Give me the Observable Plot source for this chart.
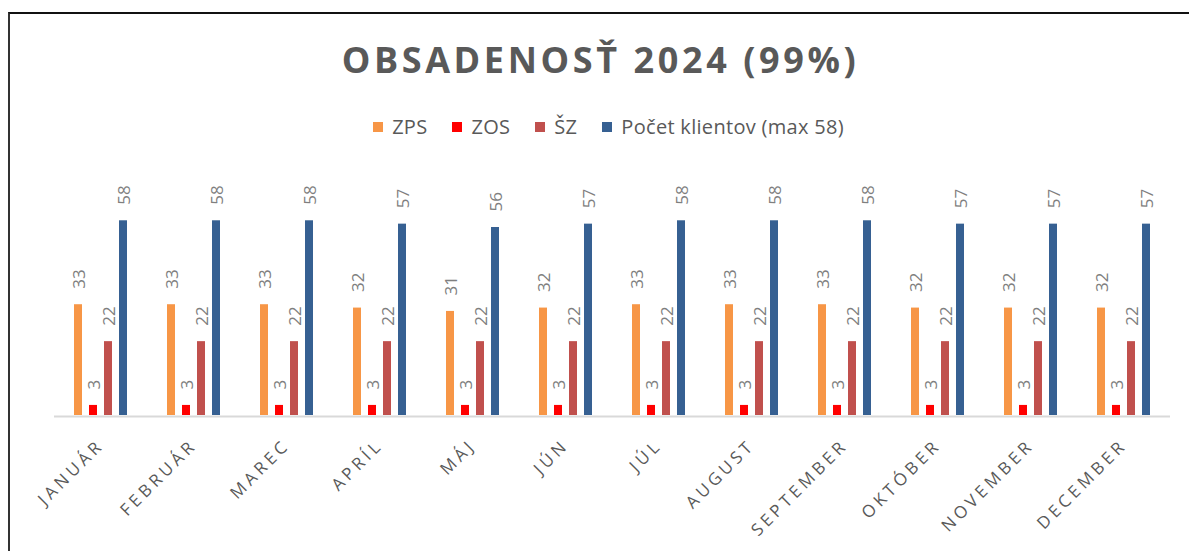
<!DOCTYPE html>
<html>
<head>
<meta charset="utf-8">
<script src="https://cdn.jsdelivr.net/npm/d3@7"></script>
<script src="https://cdn.jsdelivr.net/npm/@observablehq/plot@0.6"></script>
<style>
  html, body { margin: 0; padding: 0; background: #fff; }
  body { width: 1189px; height: 551px; overflow: hidden; position: relative; font-family: "Open Sans", sans-serif; }
  #frame { position: absolute; left: 8px; top: 12px; width: 1300px; height: 700px; border-top: 2px solid #111; border-left: 2px solid #333; box-sizing: border-box; }
  #title { position: absolute; left: 0; width: 1189px; top: 42px; text-align: center; font-weight: 700; font-size: 36px; letter-spacing: 3.6px; color: #595959; line-height: 1; padding-left: 12px; box-sizing: border-box;}
  #legend { position: absolute; left: 0; width: 1189px; top: 113px; display: flex; justify-content: center; gap: 25px; font-size: 20px; letter-spacing: 0.3px; color: #595959; padding-left: 28px; box-sizing: border-box; line-height: 28px;}
  .item { display: flex; align-items: center; gap: 9px; }
  .sw { width: 10px; height: 10px; display: inline-block; }
  #chart { position: absolute; left: 0; top: 150px; }
</style>
</head>
<body>
<div id="frame"></div>
<div id="title">OBSADENOSŤ 2024 (99%)</div>
<div id="legend"></div>
<div id="chart"></div>
<script>
const months = ["JANUÁR","FEBRUÁR","MAREC","APRÍL","MÁJ","JÚN","JÚL","AUGUST","SEPTEMBER","OKTÓBER","NOVEMBER","DECEMBER"];
const seriesNames = ["ZPS","ZOS","ŠZ","Počet klientov (max 58)"];
const seriesColors = ["#F79646","#FF0000","#C0504D","#366092"];
const zps = [33,33,33,32,31,32,33,33,33,32,32,32];
const zos = [3,3,3,3,3,3,3,3,3,3,3,3];
const sz = [22,22,22,22,22,22,22,22,22,22,22,22];
const pocet = [58,58,58,57,56,57,58,58,58,57,57,57];

const seriesValues = [zps, zos, sz, pocet];
const data = [];
months.forEach((m, i) => {
  seriesNames.forEach((s, j) => {
    data.push({month: m, series: s, value: seriesValues[j][i]});
  });
});

// legend
const legend = document.getElementById("legend");
seriesNames.forEach((s, j) => {
  const it = document.createElement("div");
  it.className = "item";
  const sw = document.createElement("span");
  sw.className = "sw";
  sw.style.background = seriesColors[j];
  const tx = document.createElement("span");
  tx.textContent = s;
  it.appendChild(sw); it.appendChild(tx);
  legend.appendChild(it);
});

const chart = Plot.plot({
  width: 1189,
  height: 401,
  marginLeft: 53,
  marginRight: 18,
  marginTop: 30,
  marginBottom: 136,
  style: {fontFamily: "Open Sans, sans-serif", background: "transparent"},
  fx: {domain: months, padding: 0, label: null, axis: null},
  x: {domain: seriesNames, axis: null, paddingInner: 0.5, paddingOuter: 0.25, insetLeft: 14.6, insetRight: 14.6},
  y: {domain: [0, 70], axis: null},
  color: {domain: seriesNames, range: seriesColors},
  marks: [
    Plot.axisFx({anchor: "bottom", tickRotate: -45, tickSize: 0, tickPadding: 27, dx: 0, fontSize: 17, fill: "#595959", label: null}),
    Plot.ruleY([0], {stroke: "#D9D9D9", strokeWidth: 2, dy: 1}),
    Plot.barY(data, {fx: "month", x: "series", y: "value", fill: "series"}),
    Plot.text(data, {fx: "month", x: "series", y: "value", text: d => String(d.value), rotate: -90, textAnchor: "start", dy: -16, dx: 1, fontSize: 17, fill: "#7F7F7F"})
  ]
});
d3.select(chart).selectAll('g[aria-label="fx-axis tick label"] text').attr("letter-spacing", "3.8px");
document.getElementById("chart").appendChild(chart);
</script>
</body>
</html>
